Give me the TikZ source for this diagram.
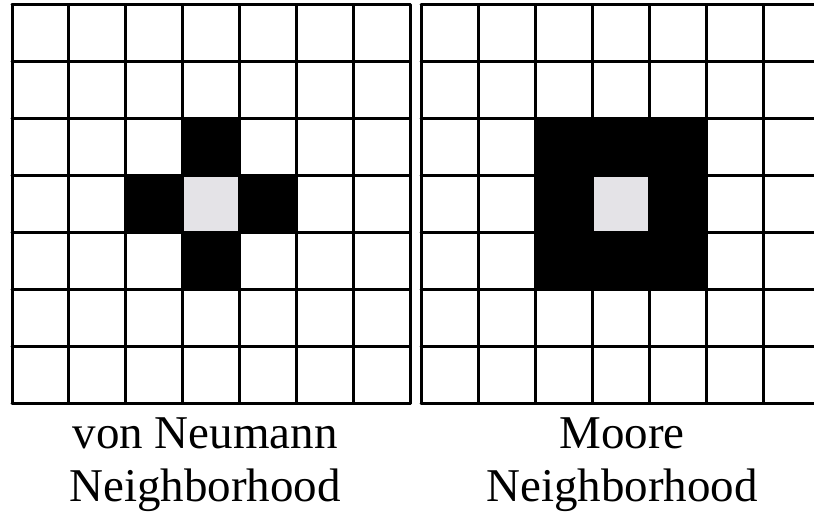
\documentclass[tikz,border=0pt]{standalone}
\usepackage{fontspec}
\setmainfont{Liberation Serif}
\definecolor{centergray}{RGB}{228,227,231}
\begin{document}
\begin{tikzpicture}[x=1pt,y=-1pt,
  gridline/.style={line width=3pt,line join=round,line cap=round},
  caption/.style={font=\fontsize{47}{53}\selectfont,align=center,inner sep=0pt,anchor=north}]
\useasboundingbox (0,0) rectangle (814,516);
\fill[white] (0,0) rectangle (814,516);
% left grid: von Neumann
\begin{scope}[shift={(12,5)},x=56.9pt,y=-56.9pt]
  \fill[black] (3,2) rectangle (4,5);
  \fill[black] (2,3) rectangle (5,4);
  \fill[centergray] (3,3) rectangle (4,4);
  \foreach \i in {0,...,7} {
    \draw[gridline] (\i,0) -- (\i,7);
    \draw[gridline] (0,\i) -- (7,\i);
  }
\end{scope}
% right grid: Moore
\begin{scope}[shift={(421,5)},x=57pt,y=-56.9pt]
  \fill[black] (2,2) rectangle (5,5);
  \fill[centergray] (3,3) rectangle (4,4);
  \foreach \i in {0,...,7} {
    \draw[gridline] (\i,0) -- (\i,7);
    \draw[gridline] (0,\i) -- (7,\i);
  }
\end{scope}
\node[caption] (vn) at (205,418) {von Neumann\\Neighborhood};
\node[caption] (mo) at (622,418) {Moore\\Neighborhood};
\end{tikzpicture}
\end{document}
